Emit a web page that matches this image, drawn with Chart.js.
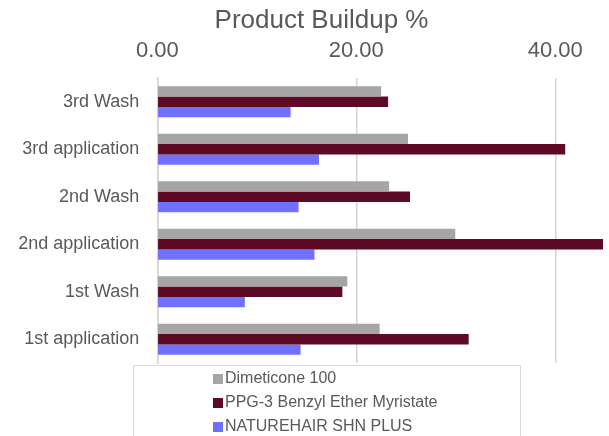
<!DOCTYPE html>
<html>
<head>
<meta charset="utf-8">
<script src="https://cdn.jsdelivr.net/npm/chart.js@4"></script>
<style>
  html, body { margin: 0; padding: 0; background: #fff; overflow: hidden; }
  #wrap { position: relative; width: 609px; height: 436px; }
  #title {
    position: absolute; left: 0; top: 4px; width: 643px; height: 31px; line-height: 31px;
    text-align: center; white-space: nowrap;
    font-family: "Liberation Sans", Arial, sans-serif; font-size: 26px; color: #595959;
  }
  #legend {
    position: absolute; left: 133px; top: 365px; width: 388px; height: 90px;
    border: 1px solid #d9d9d9; box-sizing: border-box;
    font-family: "Liberation Sans", Arial, sans-serif; font-size: 16px; color: #595959;
  }
  .item { position: absolute; left: 79px; height: 24px; line-height: 24px; white-space: nowrap; }
  .item i { display: inline-block; width: 10px; height: 10px; margin-right: 2px; vertical-align: -1px; }
</style>
</head>
<body>
<div id="wrap">
  <canvas id="buildupChart" width="609" height="436"></canvas>
  <div id="title">Product Buildup %</div>
  <div id="legend"></div>
</div>
<script>
// ----- data -----
const stages = ['3rd Wash', '3rd application', '2nd Wash', '2nd application', '1st Wash', '1st application'];

const dimeticone = [22.5, 25.2, 23.3, 29.95, 19.1, 22.35];
const ppg3 = [23.2, 41.0, 25.4, 44.8, 18.6, 31.3];
const naturehair = [13.4, 16.25, 14.2, 15.8, 8.8, 14.4];

const seriesNames = ['Dimeticone 100', 'PPG-3 Benzyl Ether Myristate', 'NATUREHAIR SHN PLUS'];
const seriesColors = ['#a5a5a5', '#5e0a24', '#7070ff'];
const xTicks = [0, 20, 40];

const textGray = '#595959';
const font = 'Liberation Sans, Arial, sans-serif';

const datasets = [dimeticone, ppg3, naturehair].map((vals, i) => ({
  label: seriesNames[i],
  data: vals,
  backgroundColor: seriesColors[i],
  borderWidth: 0,
  categoryPercentage: 0.65,
  barPercentage: 1
}));

new Chart(document.getElementById('buildupChart'), {
  type: 'bar',
  data: { labels: stages, datasets },
  options: {
    indexAxis: 'y',
    responsive: false,
    animation: false,
    layout: { padding: { left: 0, right: 4, top: 35.2, bottom: 73 } },
    plugins: {
      legend: { display: false },
      tooltip: { enabled: false },
      title: { display: false }
    },
    scales: {
      x: {
        position: 'top',
        min: 0,
        max: 45,
        afterBuildTicks: s => { s.ticks = xTicks.map(v => ({ value: v })); },
        afterFit: s => { s.height = 42.8; },
        ticks: {
          color: textGray,
          padding: 14,
          font: { family: font, size: 22 },
          callback: v => v.toFixed(2)
        },
        grid: { color: '#d4d4d4', lineWidth: 1.5, drawTicks: false },
        border: { display: false }
      },
      y: {
        afterFit: s => { s.width = 157.3; },
        ticks: {
          color: textGray,
          padding: 18,
          font: { family: font, size: 18 }
        },
        grid: { display: false, drawTicks: false },
        border: { display: true, color: '#d4d4d4', width: 1.5 }
      }
    }
  }
});

// ----- legend box (vertical list, as in the reference) -----
const legend = document.getElementById('legend');
seriesNames.forEach((name, i) => {
  const row = document.createElement('div');
  row.className = 'item';
  row.style.top = (i * 24) + 'px';
  const sw = document.createElement('i');
  sw.style.background = seriesColors[i];
  row.appendChild(sw);
  row.appendChild(document.createTextNode(name));
  legend.appendChild(row);
});
</script>
</body>
</html>
